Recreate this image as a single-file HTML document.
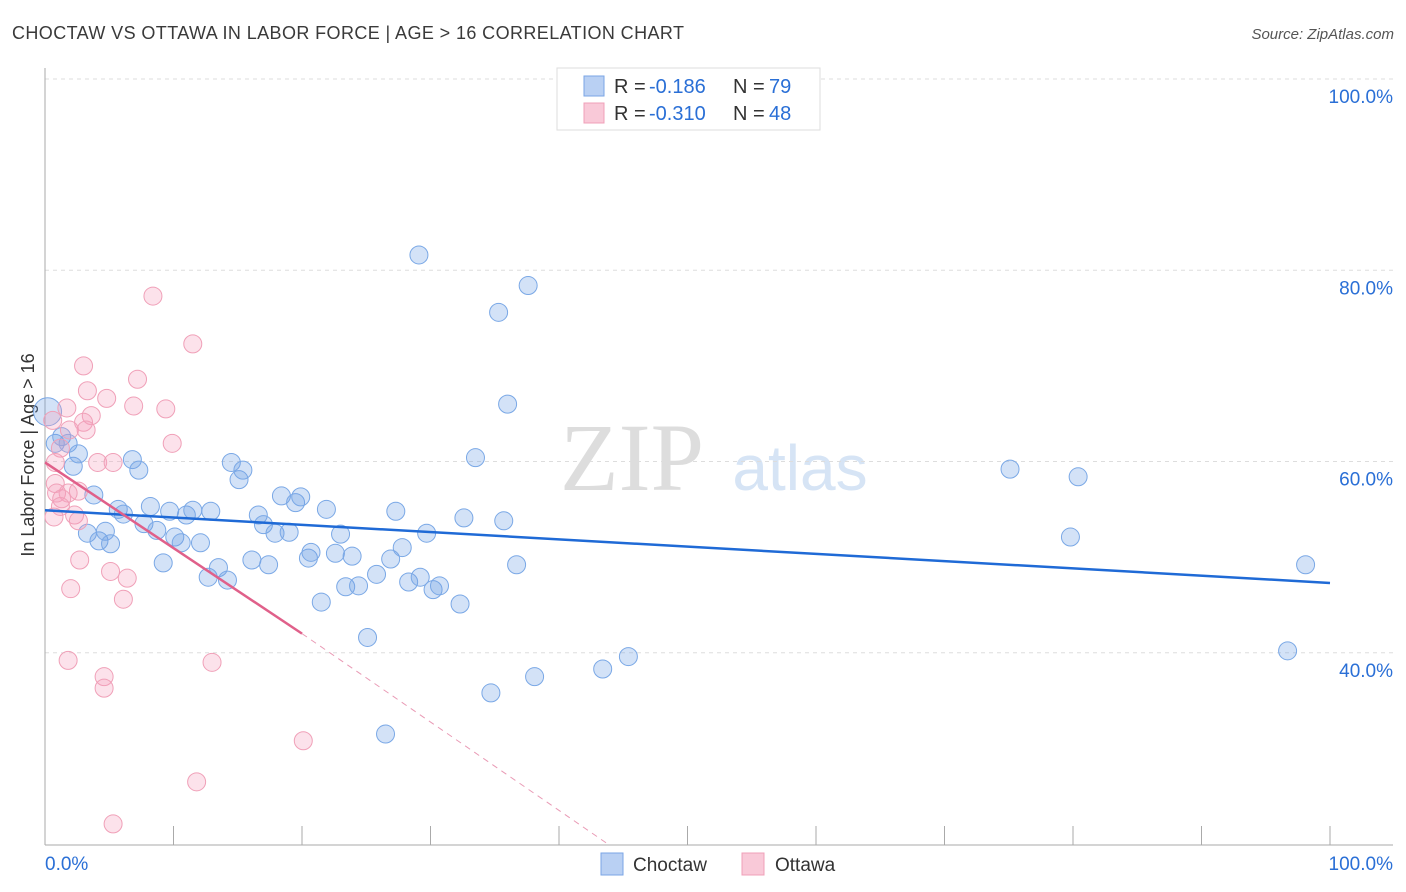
<!DOCTYPE html>
<html><head><meta charset="utf-8"><style>
body{margin:0;background:#fff;font-family:"Liberation Sans",sans-serif}
svg{display:block}
</style></head><body>
<svg id="c" width="1406" height="892">
<text x="12" y="39" font-size="18" fill="#3a3a3a" letter-spacing="0.4">CHOCTAW VS OTTAWA IN LABOR FORCE | AGE &gt; 16 CORRELATION CHART</text>
<text x="1394" y="39" font-size="15" fill="#555" font-style="italic" text-anchor="end">Source: ZipAtlas.com</text>
<text x="632" y="490" font-size="96" fill="#ddd" font-family="Liberation Serif,serif" text-anchor="middle">ZIP</text>
<text x="800" y="490" font-size="64" fill="#d6e4f5" text-anchor="middle">atlas</text>
<text transform="translate(34,455) rotate(-90)" font-size="18" fill="#333" text-anchor="middle">In Labor Force | Age &gt; 16</text>
<g id="grid"></g><g id="marks"></g>
<g>
<rect x="557" y="68" width="263" height="62" fill="#fff" stroke="#ddd"/>
<rect x="584" y="76" width="20" height="20" fill="#b9d0f3" stroke="#7aa5e6"/>
<rect x="584" y="103" width="20" height="20" fill="#f9c9d8" stroke="#f0a0b8"/>
<text x="614" y="93" font-size="20" fill="#333">R =</text>
<text x="649" y="93" font-size="20" fill="#2a6fd6">-0.186</text>
<text x="733" y="93" font-size="20" fill="#333">N =</text>
<text x="769" y="93" font-size="20" fill="#2a6fd6">79</text>
<text x="614" y="120" font-size="20" fill="#333">R =</text>
<text x="649" y="120" font-size="20" fill="#2a6fd6">-0.310</text>
<text x="733" y="120" font-size="20" fill="#333">N =</text>
<text x="769" y="120" font-size="20" fill="#2a6fd6">48</text>
</g>
<g>
<rect x="601" y="853" width="22" height="22" fill="#b9d0f3" stroke="#7aa5e6"/>
<text x="633" y="871" font-size="19" fill="#333">Choctaw</text>
<rect x="742" y="853" width="22" height="22" fill="#f9c9d8" stroke="#f0a0b8"/>
<text x="775" y="871" font-size="19" fill="#333">Ottawa</text>
</g>
</svg>
<script>
const blueX=[0.2,0.8,1.3,1.8,2.2,2.6,3.8,3.3,4.2,4.7,5.1,5.7,6.1,6.8,7.3,7.7,8.2,8.7,9.2,9.7,10.1,10.6,11.0,11.5,12.1,12.7,12.9,13.5,14.2,14.5,15.1,15.4,16.1,16.6,17.0,17.4,17.9,18.4,19.0,19.5,19.9,20.5,20.7,21.5,21.9,22.6,23.0,23.4,23.9,24.4,25.1,25.8,26.5,26.9,27.3,27.8,28.3,29.2,29.7,30.2,30.7,29.1,32.3,32.6,33.5,34.7,35.3,35.7,36.0,36.7,37.6,38.1,43.4,45.4,75.1,79.8,80.4,96.7,98.1];
const blueY=[65.2,61.9,62.6,61.9,59.5,60.8,56.5,52.5,51.7,52.7,51.4,55.0,54.5,60.2,59.1,53.5,55.3,52.8,49.4,54.8,52.1,51.5,54.4,54.9,51.5,47.9,54.8,48.9,47.6,59.9,58.1,59.1,49.7,54.4,53.4,49.2,52.5,56.4,52.6,55.7,56.3,49.9,50.5,45.3,55.0,50.4,52.4,46.9,50.1,47.0,41.6,48.2,31.5,49.8,54.8,51.0,47.4,47.9,52.5,46.6,47.0,81.6,45.1,54.1,60.4,35.8,75.6,53.8,66.0,49.2,78.4,37.5,38.3,39.6,59.2,52.1,58.4,40.2,49.2];
const pinkX=[0.6,8.4,11.5,3.0,7.2,3.3,4.8,6.9,9.4,1.7,3.6,3.0,3.2,1.9,9.9,1.2,4.1,5.3,0.8,0.8,2.6,1.8,0.9,1.3,1.2,2.3,2.6,0.7,2.7,5.1,6.4,2.0,6.1,1.8,13.0,4.6,4.6,20.1,11.8,5.3];
const pinkY=[64.3,77.3,72.3,70.0,68.6,67.4,66.6,65.8,65.5,65.6,64.8,64.1,63.3,63.3,61.9,61.4,59.9,59.9,59.9,57.7,56.9,56.7,56.7,56.1,55.3,54.4,53.8,54.2,49.7,48.5,47.8,46.7,45.6,39.2,39.0,37.5,36.3,30.8,26.5,22.1];
const blueTrend=[54.9,47.3];
const pinkTrend=[59.9,42.0,20.0];
const pinkTrendX=[0,20,43.8];
const yTicks=[100,80,60,40];
const xTickVals=[0,10,20,30,40,50,60,70,80,90,100];
const sx=v=>45+v*12.85, sy=v=>79+(100-v)*9.5625;
const NS='http://www.w3.org/2000/svg';
function mk(t,a,p){const e=document.createElementNS(NS,t);for(const k in a)e.setAttribute(k,a[k]);p.appendChild(e);return e;}
const g=document.getElementById('grid'),m=document.getElementById('marks');
yTicks.forEach(v=>{
 const l=mk('line',{x1:45,x2:1393,y1:sy(v),y2:sy(v),stroke:'#ddd','stroke-dasharray':'4,4'},g);
 
 
 const t=mk('text',{x:1393,y:sy(v)+24,'font-size':19,fill:'#2a6fd6','text-anchor':'end'},g);t.textContent=v.toFixed(1)+'%';
 
 
});
mk('line',{x1:45,x2:45,y1:68,y2:845,stroke:'#aaa'},g);
mk('line',{x1:45,x2:1393,y1:845,y2:845,stroke:'#aaa'},g);
xTickVals.forEach(v=>{const l=mk('line',{x1:sx(v),x2:sx(v),y1:826,y2:845,stroke:'#aaa'},g);
 
 });
[[0,'start',45],[100,'end',1393]].forEach(([v,a,x])=>{const t=mk('text',{x:x,y:870,'font-size':19,fill:'#2a6fd6','text-anchor':a},g);t.textContent=v.toFixed(1)+'%';
 
 });
blueX.forEach((x,i)=>{const c=mk('circle',{cx:sx(x),cy:sy(blueY[i]),r:i==0?14:9,fill:'rgba(110,160,230,0.3)',stroke:'#7aa8e6','stroke-width':1},m);
 
 });
pinkX.forEach((x,i)=>{const c=mk('circle',{cx:sx(x),cy:sy(pinkY[i]),r:9,fill:'rgba(245,160,190,0.3)',stroke:'#f0a0b8','stroke-width':1},m);
 
 });
const bl=mk('line',{x1:sx(0),y1:sy(blueTrend[0]),x2:sx(100),y2:sy(blueTrend[1]),stroke:'#1f6ad6','stroke-width':2.5},m);


const pl=mk('line',{x1:sx(pinkTrendX[0]),y1:sy(pinkTrend[0]),x2:sx(pinkTrendX[1]),y2:sy(pinkTrend[1]),stroke:'#e0608a','stroke-width':2.5},m);


const pd=mk('line',{x1:sx(pinkTrendX[1]),y1:sy(pinkTrend[1]),x2:sx(pinkTrendX[2]),y2:sy(pinkTrend[2]),stroke:'#e99ab5','stroke-width':1,'stroke-dasharray':'6,5'},m);


</script>
</body></html>
